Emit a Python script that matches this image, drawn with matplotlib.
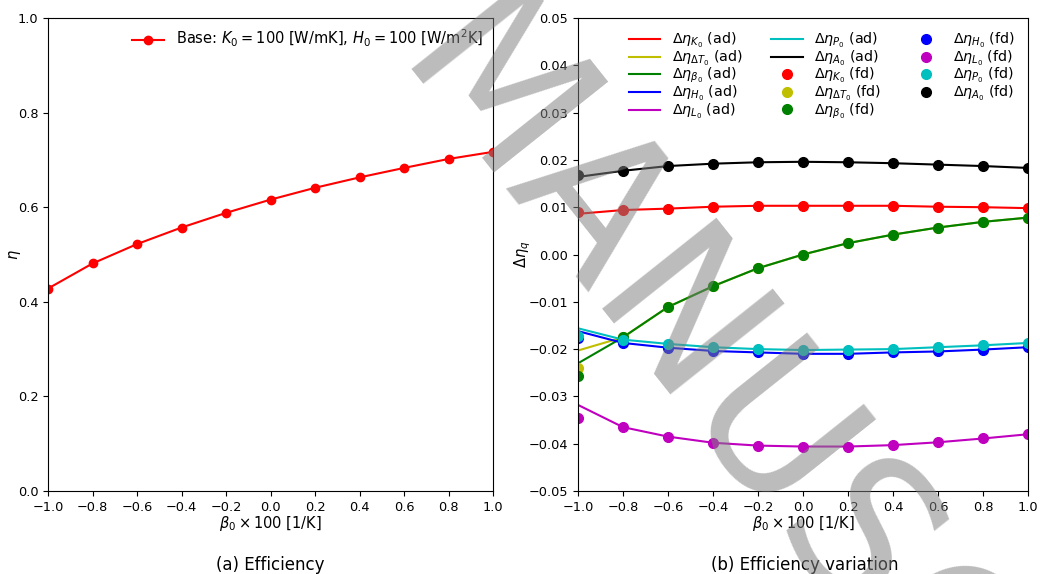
import matplotlib
matplotlib.use("Agg")
import matplotlib.pyplot as plt

# beta_0 x 100 [1/K]
beta = [-1.0, -0.8, -0.6, -0.4, -0.2, 0.0, 0.2, 0.4, 0.6, 0.8, 1.0]

# (a) efficiency, base case
eta = [0.428, 0.481, 0.522, 0.557, 0.588, 0.616, 0.641, 0.663, 0.683, 0.702, 0.717]

# (b) efficiency variation, analytical (ad)
d_K_ad = [0.0086, 0.0094, 0.0097, 0.0101, 0.0103, 0.0103, 0.0103, 0.0103, 0.0101, 0.0100, 0.0098]
d_T_ad = [-0.0203, -0.0175, -0.0111, -0.0067, -0.0029, 0.0000, 0.0024, 0.0042, 0.0057, 0.0069, 0.0078]
d_B_ad = [-0.0230, -0.0175, -0.0111, -0.0067, -0.0029, 0.0000, 0.0024, 0.0042, 0.0057, 0.0069, 0.0078]
d_H_ad = [-0.0162, -0.0187, -0.0197, -0.0204, -0.0207, -0.0210, -0.0210, -0.0207, -0.0205, -0.0201, -0.0196]
d_L_ad = [-0.0318, -0.0365, -0.0385, -0.0398, -0.0404, -0.0406, -0.0406, -0.0403, -0.0397, -0.0389, -0.0380]
d_P_ad = [-0.0156, -0.0180, -0.0189, -0.0196, -0.0200, -0.0202, -0.0201, -0.0200, -0.0196, -0.0192, -0.0187]
d_A_ad = [0.0164, 0.0177, 0.0187, 0.0192, 0.0195, 0.0196, 0.0195, 0.0193, 0.0190, 0.0187, 0.0183]

# (b) efficiency variation, finite difference (fd)
d_K_fd = [0.0089] + d_K_ad[1:]
d_T_fd = [-0.0239] + d_T_ad[1:]
d_B_fd = [-0.0256] + d_B_ad[1:]
d_H_fd = [-0.0177] + d_H_ad[1:]
d_L_fd = [-0.0346] + d_L_ad[1:]
d_P_fd = [-0.0172] + d_P_ad[1:]
d_A_fd = [0.0168] + d_A_ad[1:]

names = [r'K_0', r'\Delta T_0', r'\beta_0', r'H_0', r'L_0', r'P_0', r'A_0']
colors = ['r', 'y', 'g', 'b', 'm', 'c', 'k']
ad = [d_K_ad, d_T_ad, d_B_ad, d_H_ad, d_L_ad, d_P_ad, d_A_ad]
fd = [d_K_fd, d_T_fd, d_B_fd, d_H_fd, d_L_fd, d_P_fd, d_A_fd]

xticks = [-1.0, -0.8, -0.6, -0.4, -0.2, 0.0, 0.2, 0.4, 0.6, 0.8, 1.0]

fig = plt.figure(figsize=(10.4, 5.74), dpi=100)
ax1 = fig.add_axes([48 / 1040, 1 - 491 / 574, 445 / 1040, 473 / 574])
ax2 = fig.add_axes([578 / 1040, 1 - 491 / 574, 450 / 1040, 473 / 574])

tick_fs = 9.3
lab_fs = 10.5
leg_fs = 10.3

# left panel
ax1.plot(beta, eta, 'r-', marker='o', ms=6, lw=1.5,
         label=r'Base: $K_0 = 100$ [W/mK], $H_0 = 100$ [W/m$^2$K]')
ax1.set_xlim(-1, 1)
ax1.set_ylim(0, 1)
ax1.set_xticks(xticks)
ax1.set_xlabel(r'$\beta_0 \times 100$ [1/K]', fontsize=lab_fs, labelpad=0)
ax1.set_ylabel(r'$\eta$', fontsize=lab_fs, labelpad=-4)
ax1.tick_params(labelsize=tick_fs)
ax1.legend(loc='upper right', frameon=False, fontsize=10.5, handlelength=2.2,
           borderaxespad=0.3)

# right panel
for name, c, vals in zip(names, colors, ad):
    ax2.plot(beta, vals, color=c, lw=1.5, label=r'$\Delta\eta_{%s}$ (ad)' % name)
for name, c, vals in zip(names, colors, fd):
    ax2.plot(beta, vals, color=c, ls='none', marker='o', ms=7,
             label=r'$\Delta\eta_{%s}$ (fd)' % name)
ax2.set_xlim(-1, 1)
ax2.set_ylim(-0.05, 0.05)
ax2.set_xticks(xticks)
ax2.set_yticks([-0.05, -0.04, -0.03, -0.02, -0.01, 0.0, 0.01, 0.02, 0.03, 0.04, 0.05])
ax2.set_xlabel(r'$\beta_0 \times 100$ [1/K]', fontsize=lab_fs, labelpad=0)
ax2.set_ylabel(r'$\Delta\eta_q$', fontsize=lab_fs, labelpad=-3)
ax2.tick_params(labelsize=tick_fs)
ax2.legend(loc='upper right', ncol=3, frameon=False, fontsize=leg_fs,
           handlelength=2.2, labelspacing=-0.1)

# sub captions
fig.text(270 / 1040, 9 / 574, '(a) Efficiency', ha='center', va='center', fontsize=12)
fig.text(805 / 1040, 9 / 574, '(b) Efficiency variation', ha='center', va='center', fontsize=12)

# watermark
fig.text(391 / 1040, 506 / 574, 'MANUSCRIPT', fontsize=143, color='gray', alpha=0.53,
         rotation=-51.5, rotation_mode='anchor', ha='left', va='baseline', zorder=10)

fig.savefig('out.png', dpi=100)
